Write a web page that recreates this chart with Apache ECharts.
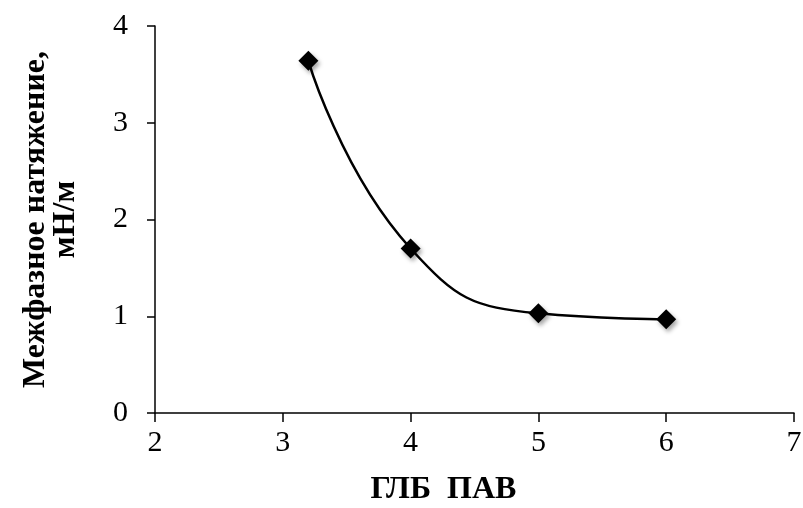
<!DOCTYPE html>
<html>
<head>
<meta charset="utf-8">
<script src="https://cdn.jsdelivr.net/npm/echarts@6/dist/echarts.min.js"></script>
<style>
  html, body { margin: 0; padding: 0; background: #fff; }
  #chart { width: 803px; height: 508px; }
</style>
</head>
<body>
<div id="chart"></div>
<script>
// HLB of the surfactant vs. interfacial tension
const hlbValues = [3.2, 4, 5, 6];
const tensionValues = [3.64, 1.70, 1.03, 0.97];
const xTicks = [2, 3, 4, 5, 6, 7];
const yTicks = [0, 1, 2, 3, 4];
const xTitle = 'ГЛБ  ПАВ';
const yTitle = 'Межфазное натяжение,\nмН/м';

const points = hlbValues.map((x, i) => [x, tensionValues[i]]);
const serif = 'Liberation Serif';

const chart = echarts.init(document.getElementById('chart'));
chart.setOption({
  animation: false,
  backgroundColor: '#fff',
  grid: {
    left: 155, right: 9, top: 26, bottom: 95,
    containLabel: false, outerBoundsMode: 'none'
  },
  xAxis: {
    type: 'value',
    min: xTicks[0], max: xTicks[xTicks.length - 1], interval: 1,
    name: xTitle,
    nameLocation: 'middle',
    nameGap: 61,
    nameTextStyle: {
      fontFamily: serif, fontWeight: 'bold', fontSize: 32, color: '#000',
      padding: [0, 62, 0, 0]
    },
    axisLine: { onZero: false, lineStyle: { color: '#000', width: 1.5 } },
    axisTick: { show: true, length: 9, lineStyle: { color: '#000', width: 1.5 } },
    axisLabel: { margin: 15, fontFamily: serif, fontSize: 30, color: '#000' },
    splitLine: { show: false }
  },
  yAxis: {
    type: 'value',
    min: yTicks[0], max: yTicks[yTicks.length - 1], interval: 1,
    name: yTitle,
    nameLocation: 'middle',
    nameRotate: 90,
    nameGap: 74,
    nameTextStyle: {
      fontFamily: serif, fontWeight: 'bold', fontSize: 32, color: '#000',
      lineHeight: 30, align: 'center'
    },
    axisLine: { show: true, lineStyle: { color: '#000', width: 1.5 } },
    axisTick: { show: true, length: 8, lineStyle: { color: '#000', width: 1.5 } },
    axisLabel: { margin: 27, fontFamily: serif, fontSize: 30, color: '#000' },
    splitLine: { show: false }
  },
  series: [{
    type: 'line',
    data: points,
    smooth: 0.5,
    symbol: 'diamond',
    symbolSize: 20,
    lineStyle: { color: '#000', width: 2.5 },
    itemStyle: {
      color: '#000',
      shadowColor: 'rgba(0,0,0,0.35)',
      shadowBlur: 4,
      shadowOffsetX: 2,
      shadowOffsetY: 3
    },
    z: 3
  }]
});
</script>
</body>
</html>
